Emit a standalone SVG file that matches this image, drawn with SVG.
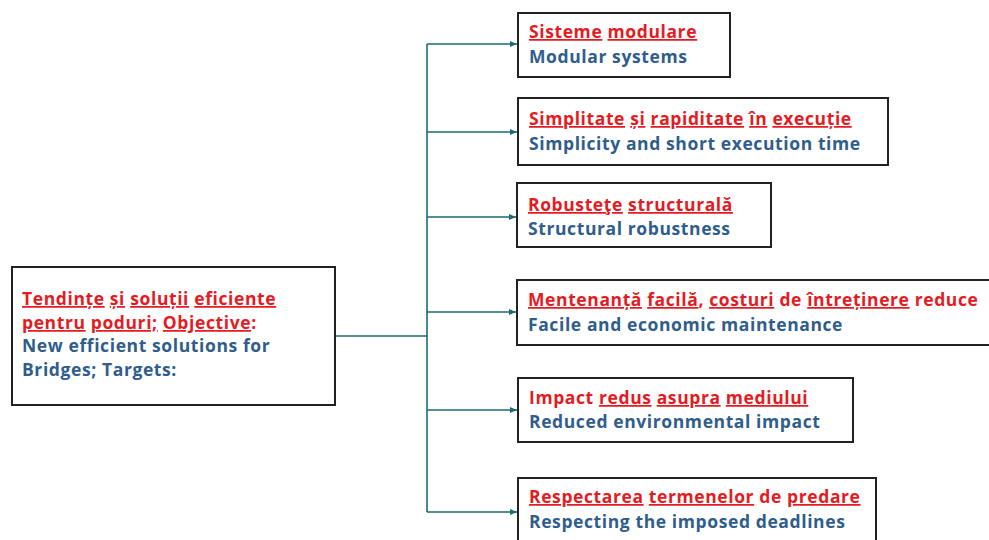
<svg xmlns="http://www.w3.org/2000/svg" width="989" height="540" viewBox="0 0 989 540">
<style>
.box{fill:#fff;stroke:#222;stroke-width:2}
.r{font-family:"Open Sans","Liberation Sans",Arial,sans-serif;font-weight:bold;font-size:17.5px;letter-spacing:0.6px;fill:#e31b23}
.b{font-family:"Open Sans","Liberation Sans",Arial,sans-serif;font-weight:bold;font-size:17.5px;letter-spacing:0.6px;fill:#2f5d8c}
.u{text-decoration:underline}
.c{fill:none;stroke:#1d6a6e;stroke-width:1.6}
</style>
<defs>
<marker id="ah" markerWidth="8" markerHeight="8" refX="7" refY="4" orient="auto" markerUnits="userSpaceOnUse">
<path d="M0,1 L7,4 L0,7 Z" fill="#1d6a6e"/>
</marker>
</defs>
<rect width="989" height="540" fill="#fff"/>
<g id="connectors">
<path class="c" d="M335,336 H427"/>
<path class="c" d="M427,44 V512"/>
<path class="c" d="M427,44 H517" marker-end="url(#ah)"/>
<path class="c" d="M427,132 H517" marker-end="url(#ah)"/>
<path class="c" d="M427,217 H516" marker-end="url(#ah)"/>
<path class="c" d="M427,312 H516" marker-end="url(#ah)"/>
<path class="c" d="M427,410 H517" marker-end="url(#ah)"/>
<path class="c" d="M427,512 H517" marker-end="url(#ah)"/>
</g>
<g id="root">
<rect class="box" x="12" y="267" width="323" height="138"/>
<text class="r" x="22" y="305"><tspan class="u">Tendințe</tspan> <tspan class="u">și</tspan> <tspan class="u">soluții</tspan> <tspan class="u">eficiente</tspan></text>
<text class="r" x="22" y="329"><tspan class="u">pentru</tspan> <tspan class="u">poduri;</tspan> <tspan class="u">Objective</tspan>:</text>
<text class="b" x="22" y="352">New efficient solutions for</text>
<text class="b" x="22" y="376">Bridges; Targets:</text>
</g>
<g id="n1">
<rect class="box" x="518" y="13" width="212" height="64"/>
<text class="r" x="529" y="38"><tspan class="u">Sisteme</tspan> <tspan class="u">modulare</tspan></text>
<text class="b" x="529" y="63">Modular systems</text>
</g>
<g id="n2">
<rect class="box" x="518" y="98" width="370" height="67"/>
<text class="r" x="529" y="125"><tspan class="u">Simplitate</tspan> <tspan class="u">și</tspan> <tspan class="u">rapiditate</tspan> <tspan class="u">în</tspan> <tspan class="u">execuție</tspan></text>
<text class="b" x="529" y="150">Simplicity and short execution time</text>
</g>
<g id="n3">
<rect class="box" x="517" y="183" width="254" height="64"/>
<text class="r" x="528" y="211"><tspan class="u">Robusteţe</tspan> <tspan class="u">structurală</tspan></text>
<text class="b" x="528" y="235">Structural robustness</text>
</g>
<g id="n4">
<rect class="box" x="517" y="280" width="480" height="65"/>
<text class="r" x="528" y="306"><tspan class="u">Mentenanță</tspan> <tspan class="u">facilă</tspan>, <tspan class="u">costuri</tspan> de <tspan class="u">întreținere</tspan> reduce</text>
<text class="b" x="528" y="331">Facile and economic maintenance</text>
</g>
<g id="n5">
<rect class="box" x="518" y="378" width="335" height="64"/>
<text class="r" x="529" y="404">Impact <tspan class="u">redus</tspan> <tspan class="u">asupra</tspan> <tspan class="u">mediului</tspan></text>
<text class="b" x="529" y="428">Reduced environmental impact</text>
</g>
<g id="n6">
<rect class="box" x="518" y="478" width="358" height="70"/>
<text class="r" x="529" y="503"><tspan class="u">Respectarea</tspan> <tspan class="u">termenelor</tspan> de <tspan class="u">predare</tspan></text>
<text class="b" x="529" y="528">Respecting the imposed deadlines</text>
</g>
</svg>
